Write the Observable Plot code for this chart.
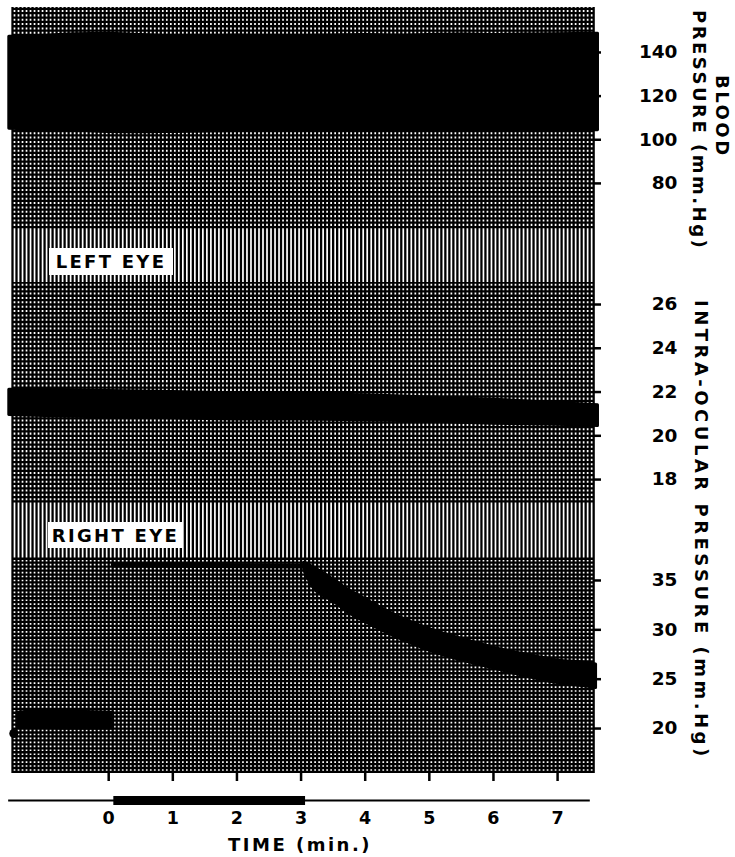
<!DOCTYPE html>
<html><head><meta charset="utf-8">
<script src="https://cdn.jsdelivr.net/npm/d3@7"></script>
<script src="https://cdn.jsdelivr.net/npm/@observablehq/plot@0.6"></script>
<style>
body{margin:0;background:#fff;}
#wrap{position:relative;width:735px;height:857px;overflow:hidden;font-family:"DejaVu Sans",sans-serif;}
#wrap svg{display:block;}
.lbl{position:absolute;background:#fff;font-weight:bold;font-size:18px;letter-spacing:2.3px;display:flex;align-items:center;justify-content:center;color:#000;}
.vt{position:absolute;writing-mode:vertical-rl;font-weight:bold;font-size:18px;line-height:20px;white-space:nowrap;color:#000;}
</style></head><body><div id="wrap"></div>
<script>
// ---- tick labels ----
const timeTicks = [0, 1, 2, 3, 4, 5, 6, 7];
const bpTicks = [80, 100, 120, 140];
const leftTicks = [18, 20, 22, 24, 26];
const rightTicks = [20, 25, 30, 35];

// ---- blood pressure (mm Hg): pulse band low/high ----
const bpTime = [-1.55, -1.0, -0.5, 0, 0.5, 1, 1.5, 2, 2.5, 3, 3.5, 4, 4.5, 5, 5.5, 6, 6.5, 7, 7.63];
const bpHigh = [147.2, 147.6, 148.4, 148.6, 148.0, 147.6, 147.6, 147.8, 147.6, 147.6, 147.8, 148.0, 147.8, 148.0, 148.2, 148.0, 148.2, 148.4, 148.6];
const bpLow  = [105.0, 104.6, 104.2, 103.6, 103.4, 103.6, 103.8, 104.0, 104.0, 104.0, 104.2, 104.0, 104.0, 104.2, 104.0, 104.2, 104.0, 104.2, 104.4];

// ---- left eye intra-ocular pressure (mm Hg) ----
const leTime = [-1.55, -1.0, 0, 1, 2, 3, 4, 5, 6, 7, 7.63];
const leHigh = [22.1, 22.1, 22.05, 22.0, 21.95, 21.9, 21.85, 21.75, 21.65, 21.5, 21.4];
const leLow  = [20.95, 20.9, 20.85, 20.8, 20.75, 20.75, 20.7, 20.65, 20.55, 20.5, 20.45];

// ---- right eye intra-ocular pressure (mm Hg) ----
const reDotTime = [-1.48];
const reDotValue = [19.5];
const reBaseTime = [-1.42, -1.0, -0.5, 0.07];
const reBaseHigh = [21.6, 21.75, 21.7, 21.6];
const reBaseLow  = [20.1, 20.05, 20.0, 20.0];
const reInfTime = [0.07, 3.07];
const reInfValue = [36.57, 36.47];
const reDecTime = [3.05, 3.2, 3.5, 3.75, 4.0, 4.5, 5.0, 5.5, 6.0, 6.5, 7.0, 7.5, 7.6];
const reDecHigh = [36.8, 36.3, 35.1, 34.0, 33.1, 31.4, 30.1, 29.1, 28.2, 27.5, 26.9, 26.6, 26.5];
const reDecLow  = [36.0, 34.2, 32.9, 31.7, 30.8, 29.2, 27.9, 26.9, 26.1, 25.3, 24.6, 24.2, 24.1];

// ---- time marker (infusion period, min) ----
const timeLine = [-1.56, 7.51];
const stimPeriod = [0.08, 3.07];

// ---- scales / layout ----
const xDomain = [-1.5, 7.56];
const W = 735, ML = 12, MR = 142;
const gridTimes = d3.range(0, 146).map(i => -1.5 + i / 16);
const bpGrid = d3.range(30, 81).map(i => i * 2);
const leGrid = d3.range(85, 136).map(i => i / 5);
const reGrid = d3.range(39, 94).map(i => i * 0.4);

const zip = (t, h, l) => t.map((d, i) => ({t: d, hi: h[i], lo: l[i]}));
const bp = zip(bpTime, bpHigh, bpLow);
const le = zip(leTime, leHigh, leLow);
const reBase = zip(reBaseTime, reBaseHigh, reBaseLow);
const reDec = zip(reDecTime, reDecHigh, reDecLow);
const reInf = reInfTime.map((t, i) => ({t, v: reInfValue[i]}));
const reDot = reDotTime.map((t, i) => ({t, v: reDotValue[i]}));

const font = {fontFamily: "DejaVu Sans", fontWeight: "bold"};
const gridX = () => Plot.ruleX(gridTimes, {stroke: "#000", strokeWidth: 2.3});
const gridY = (g) => Plot.ruleY(g, {stroke: "#000", strokeWidth: 2.3});
const band = (data) => Plot.areaY(data, {x: "t", y1: "lo", y2: "hi", fill: "#000", stroke: "#000", strokeWidth: 3, strokeLinejoin: "round", curve: "monotone-x"});
const yAxis = (ticks) => Plot.axisY(ticks, {anchor: "right", tickSize: 7, strokeWidth: 2.5, tickPadding: 77, textAnchor: "end", fontSize: 18.5, ...font, label: null});
const base = {width: W, marginLeft: ML, marginRight: MR, style: {background: "transparent", fontFamily: "DejaVu Sans", color: "#000"}};

const plotA = Plot.plot({
  ...base, height: 282, marginTop: 7, marginBottom: 0,
  x: {domain: xDomain, axis: null},
  y: {domain: [34.6, 160.6]},
  marks: [gridX(), gridY(bpGrid), band(bp), yAxis(bpTicks)]
});

const plotB = Plot.plot({
  ...base, height: 273, marginTop: 0, marginBottom: 0,
  x: {domain: xDomain, axis: null},
  y: {domain: [14.53, 27.006]},
  marks: [gridX(), gridY(leGrid), band(le), yAxis(leftTicks)]
});

const plotC = Plot.plot({
  ...base, height: 228, marginTop: 0, marginBottom: 10,
  x: {domain: xDomain},
  y: {domain: [15.445, 37.53]},
  marks: [
    gridX(), gridY(reGrid),
    band(reBase),
    Plot.dot(reDot, {x: "t", y: "v", r: 4.5, fill: "#000"}),
    Plot.line(reInf, {x: "t", y: "v", stroke: "#000", strokeWidth: 5}),
    band(reDec),
    yAxis(rightTicks),
    Plot.axisX(timeTicks, {anchor: "bottom", tickSize: 8, strokeWidth: 2.5, tickFormat: () => "", label: null})
  ]
});

const plotD = Plot.plot({
  ...base, height: 74, marginTop: 0, marginBottom: 57,
  x: {domain: xDomain},
  y: {domain: [0, 1], axis: null},
  marks: [
    Plot.ruleY([0], {x1: timeLine[0], x2: timeLine[1], stroke: "#000", strokeWidth: 2}),
    Plot.ruleY([0], {x1: stimPeriod[0], x2: stimPeriod[1], stroke: "#000", strokeWidth: 9}),
    Plot.axisX(timeTicks, {anchor: "bottom", tickSize: 0, tickPadding: 11, fontSize: 17.5, ...font, label: null}),
    Plot.text(["TIME (min.)"], {text: d => d, frameAnchor: "bottom", lineAnchor: "middle", dy: 45, dx: -3, fontSize: 18, ...font})
  ]
});
d3.select(plotD).selectAll('g[aria-label="text"] text').attr("letter-spacing", "2.5px");

const wrap = document.getElementById("wrap");
[plotA, plotB, plotC, plotD].forEach(p => wrap.appendChild(p));

function addDiv(cls, text, css) {
  const d = document.createElement("div");
  d.className = cls; d.textContent = text;
  Object.assign(d.style, css);
  wrap.appendChild(d);
}
addDiv("lbl", "LEFT EYE", {left: "49px", top: "248px", width: "124px", height: "27px"});
addDiv("lbl", "RIGHT EYE", {left: "48px", top: "522px", width: "135px", height: "26px"});
addDiv("vt", "BLOOD", {left: "712px", top: "75px", letterSpacing: "2.5px"});
addDiv("vt", "PRESSURE (mm.Hg)", {left: "689px", top: "10px", letterSpacing: "2.5px"});
addDiv("vt", "INTRA-OCULAR PRESSURE (mm.Hg)", {left: "691px", top: "300px", letterSpacing: "3.5px"});
</script></body></html>
